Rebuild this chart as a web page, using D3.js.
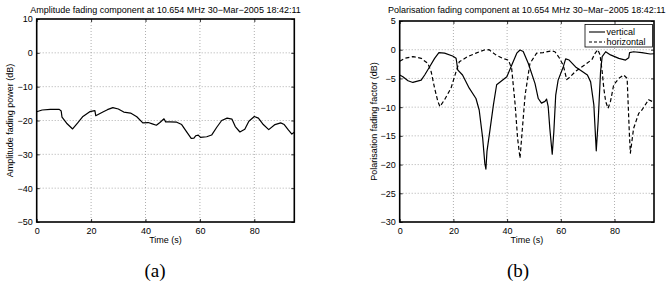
<!DOCTYPE html>
<html><head><meta charset="utf-8">
<script src="https://cdn.jsdelivr.net/npm/d3@7"></script>
<style>body{margin:0;background:#fff}svg{display:block}</style>
</head><body>
<svg id="c" width="666" height="284"></svg>
<script>
// ---------- data ----------
const xTicks = [0, 20, 40, 60, 80];
const ampYTicks = [10, 0, -10, -20, -30, -40, -50];
const polYTicks = [5, 0, -5, -10, -15, -20, -25, -30];

const ampT = [0,2,5,8.3,9,9.3,11,13.2,15,17,19.5,21.4,21.7,24.5,26,28,30,32,34.5,36.8,39,41,42.5,44,45.3,46.8,47.4,49,51.5,53.3,55,56.8,57.8,58.5,59.4,60.2,62.5,64.3,66.2,68,70,71.8,73,74.7,76.5,78,80,81.5,83.3,85.3,87.6,89.7,91,92.5,93.8,94.7];
const ampV = [-17.4,-16.9,-16.7,-16.7,-17.2,-19.0,-20.8,-22.5,-20.8,-18.8,-17.4,-17.1,-18.6,-17.4,-16.8,-16.2,-16.6,-17.5,-17.8,-18.9,-20.7,-20.6,-21.0,-21.4,-20.6,-19.5,-20.4,-20.4,-20.5,-21.2,-23.2,-25.3,-25.2,-24.5,-24.3,-25.0,-24.8,-24.3,-22.0,-20.0,-19.3,-19.6,-21.8,-23.4,-22.6,-20.2,-18.8,-19.3,-21.2,-22.7,-21.2,-20.7,-21.2,-22.8,-24.0,-23.5];

const vertT = [0,1.2,3.1,4.9,8,9.3,11.1,13,14.6,16.7,19.7,21,21.2,21.6,23.4,25.9,28.4,29.6,30.9,31.7,32.1,32.5,33.7,34.9,36.1,38,39.9,41.7,43.6,44.8,46,47.9,50.4,51.6,52.8,54.1,54.7,55.3,55.9,56.8,57.4,58.1,59,60.9,61.8,63.1,65.5,68,69.9,71.1,72.3,73.2,73.9,74.8,75.4,76.7,78.5,81.6,84.1,85.3,85.6,87.1,90.2,93.3,94.7];
const vertV = [-4.4,-4.7,-5.4,-5.7,-5.3,-4.4,-3.0,-1.5,-0.5,-0.6,-1.1,-1.5,-2.1,-3.5,-4.4,-6.7,-8.5,-10.5,-15.4,-19.8,-20.8,-17.7,-13.7,-9.6,-6.1,-5.4,-4.7,-2.7,-0.6,-0.05,-0.3,-2.4,-5.9,-8.5,-9.3,-9.0,-8.6,-9.9,-13.7,-18.2,-14.3,-7.9,-5.3,-3.0,-1.6,-1.8,-3.0,-3.8,-4.4,-5.6,-9.6,-17.6,-12.5,-3.8,-1.2,-0.35,-0.9,-1.5,-1.8,-1.4,-0.5,-0.35,-0.5,-0.75,-0.7];

const horT = [0,1.9,4.9,8,10.5,11.7,13,14.2,15,16.7,19.1,21,22.2,25.3,28.4,31.5,33.3,35.8,38.3,40.5,41.7,43,43.9,44.8,45.4,46.7,48.5,51,53.4,56.5,57.8,59.4,60.9,62.2,63.1,65.4,69.1,71.6,72.8,73.8,74.6,75.4,76,76.7,77.6,78.5,79.7,81.6,83.4,84.7,85,85.5,85.9,87.1,89,90.2,92.7,94,94.7];
const horV = [-2.0,-1.5,-1.2,-1.5,-2.4,-3.8,-6.7,-9.0,-9.9,-8.7,-6.7,-3.8,-2.1,-1.2,-0.6,-0.05,0,-0.9,-1.5,-1.8,-3.3,-9.6,-15.4,-18.9,-15.4,-7.9,-2.4,-0.6,-0.5,-0.2,-0.35,-1.4,-2.7,-5.2,-4.9,-3.8,-2.6,-1.7,-0.6,0,-0.9,-3.8,-6.7,-9.0,-10.2,-9.0,-6.1,-5.0,-4.4,-5.0,-8.5,-14.3,-18.0,-13.7,-11.1,-10.5,-8.7,-9.0,-8.8];

// ---------- drawing ----------
const svg = d3.select("#c");
const FONT = "'Liberation Sans', Arial, Helvetica, sans-serif";

function panel(opt) {
  const g = svg.append("g");
  const x = d3.scaleLinear().domain([0, 94.7]).range([opt.x0, opt.x1]);
  const y = d3.scaleLinear().domain(opt.yDomain).range([opt.y1, opt.y0]);

  // grid
  g.append("g").selectAll("line").data(xTicks.filter(d => d > 0))
    .join("line").attr("x1", d => x(d)).attr("x2", d => x(d))
    .attr("y1", opt.y0).attr("y2", opt.y1)
    .attr("stroke", "#9a9a9a").attr("stroke-width", 0.8).attr("stroke-dasharray", "1,2");
  g.append("g").selectAll("line").data(opt.yTicks.filter(d => d > opt.yDomain[0] && d < opt.yDomain[1]))
    .join("line").attr("y1", d => y(d)).attr("y2", d => y(d))
    .attr("x1", opt.x0).attr("x2", opt.x1)
    .attr("stroke", "#9a9a9a").attr("stroke-width", 0.8).attr("stroke-dasharray", "1,2");

  // axes
  const fmt = d3.format("d");
  g.append("g").attr("transform", `translate(0,${opt.y1})`)
    .call(d3.axisBottom(x).tickValues(xTicks).tickSizeInner(-3).tickSizeOuter(0).tickPadding(6).tickFormat(fmt));
  g.append("g").attr("transform", `translate(${opt.x0},0)`)
    .call(d3.axisLeft(y).tickValues(opt.yTicks).tickSizeInner(-3).tickSizeOuter(0).tickPadding(4).tickFormat(fmt));
  g.append("g").attr("transform", `translate(0,${opt.y0})`)
    .call(d3.axisTop(x).tickValues(xTicks).tickSizeInner(-3).tickSizeOuter(0).tickFormat(""));
  g.append("g").attr("transform", `translate(${opt.x1},0)`)
    .call(d3.axisRight(y).tickValues(opt.yTicks).tickSizeInner(-3).tickSizeOuter(0).tickFormat(""));
  g.selectAll(".domain").remove();
  g.selectAll(".tick line").attr("stroke", "#000").attr("stroke-width", 0.8);
  g.selectAll(".tick text").attr("font-family", FONT).attr("font-size", 9).attr("fill", "#000");

  // clip
  const cid = "clip" + opt.id;
  svg.append("clipPath").attr("id", cid).append("rect")
    .attr("x", opt.x0).attr("y", opt.y0).attr("width", opt.x1 - opt.x0).attr("height", opt.y1 - opt.y0);

  opt.series.forEach(s => {
    const pts = s.t.map((t, i) => [t, s.v[i]]);
    g.append("path").datum(pts)
      .attr("clip-path", `url(#${cid})`)
      .attr("fill", "none").attr("stroke", "#000").attr("stroke-width", 1.2)
      .attr("stroke-linejoin", "round")
      .attr("stroke-dasharray", s.dash || null)
      .attr("d", d3.line().x(d => x(d[0])).y(d => y(d[1])));
  });

  // box
  g.append("rect").attr("x", opt.x0).attr("y", opt.y0)
    .attr("width", opt.x1 - opt.x0).attr("height", opt.y1 - opt.y0)
    .attr("fill", "none").attr("stroke", "#000").attr("stroke-width", 1.6);

  const cx = (opt.x0 + opt.x1) / 2;
  g.append("text").attr("x", cx).attr("y", 12.5).attr("text-anchor", "middle")
    .attr("font-family", FONT).attr("font-size", 9).text(opt.title);
  g.append("text").attr("x", cx).attr("y", 243).attr("text-anchor", "middle")
    .attr("font-family", FONT).attr("font-size", 9).text("Time (s)");
  g.append("text").attr("transform", `translate(${opt.ylx},${(opt.y0 + opt.y1) / 2}) rotate(-90)`)
    .attr("text-anchor", "middle").attr("font-family", FONT).attr("font-size", 9).text(opt.ylabel);
  g.append("text").attr("x", opt.capx).attr("y", 277).attr("text-anchor", "middle")
    .attr("font-family", "'Liberation Serif', 'DejaVu Serif', serif").attr("font-size", 19).text(opt.caption);
  return {g, x, y};
}

panel({
  id: "a", x0: 36.7, x1: 294.3, y0: 19, y1: 222, yDomain: [-50, 10], yTicks: ampYTicks,
  title: "Amplitude fading component at 10.654 MHz 30\u2212Mar\u22122005 18:42:11",
  ylabel: "Amplitude fading power (dB)", ylx: 13, capx: 155, caption: "(a)",
  series: [{t: ampT, v: ampV}]
});

panel({
  id: "b", x0: 399.7, x1: 654, y0: 21, y1: 222, yDomain: [-30, 5], yTicks: polYTicks,
  title: "Polarisation fading component at 10.654 MHz 30\u2212Mar\u22122005 18:42:11",
  ylabel: "Polarisation fading factor (dB)", ylx: 377, capx: 518, caption: "(b)",
  series: [{t: vertT, v: vertV}, {t: horT, v: horV, dash: "4,2.5"}]
});

// legend
const lg = svg.append("g");
lg.append("rect").attr("x", 585).attr("y", 24.5).attr("width", 67.5).attr("height", 22.5)
  .attr("fill", "#fff").attr("stroke", "#000").attr("stroke-width", 0.8);
const legendItems = [{label: "vertical", dash: null}, {label: "horizontal", dash: "3,2"}];
legendItems.forEach((it, i) => {
  const yy = 32 + i * 10;
  lg.append("line").attr("x1", 589).attr("x2", 605).attr("y1", yy).attr("y2", yy)
    .attr("stroke", "#000").attr("stroke-width", 1.1).attr("stroke-dasharray", it.dash);
  lg.append("text").attr("x", 606.5).attr("y", yy + 3).attr("font-family", FONT).attr("font-size", 9).text(it.label);
});
</script>
</body></html>
